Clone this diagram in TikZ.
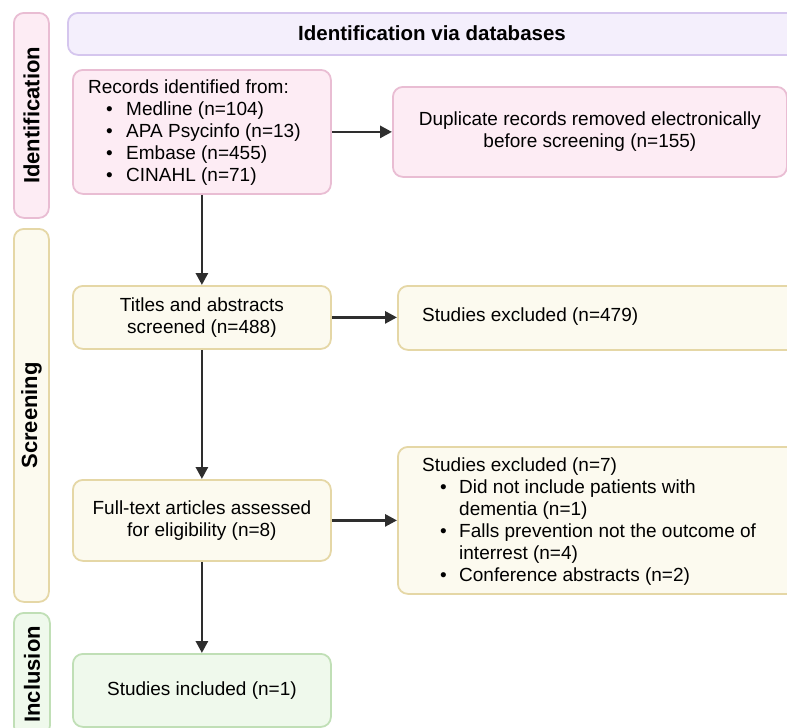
\documentclass[tikz,border=0pt]{standalone}
\usepackage{fontspec}
\setmainfont{Liberation Sans}
\usetikzlibrary{arrows.meta}
\definecolor{pinkF}{HTML}{FDECF4}
\definecolor{pinkD}{HTML}{E9BDD3}
\definecolor{lavF}{HTML}{F4EFFC}
\definecolor{lavD}{HTML}{D5C6EE}
\definecolor{yelF}{HTML}{FCFAEF}
\definecolor{yelD}{HTML}{E5D7A6}
\definecolor{grnF}{HTML}{EFF9EC}
\definecolor{grnD}{HTML}{C0DFB6}
\definecolor{arrowc}{HTML}{2E2E2E}
\begin{document}
\begin{tikzpicture}[x=1pt,y=-1pt,
  box/.style={draw, line width=1.8pt, rounded corners=10pt, anchor=north west,
    inner sep=0pt, font=\fontsize{19}{22}\selectfont, align=center, text=black},
  pinkbox/.style={box, fill=pinkF, draw=pinkD},
  lavbox/.style={box, fill=lavF, draw=lavD},
  yelbox/.style={box, fill=yelF, draw=yelD},
  grnbox/.style={box, fill=grnF, draw=grnD},
  sidelab/.style={rotate=90, font=\bfseries\fontsize{22}{24}\selectfont, inner sep=0pt},
  txt/.style={font=\fontsize{19}{22}\selectfont, align=left, inner sep=0pt},
  arr/.style={draw=arrowc, line width=2.8pt, -{Triangle[length=12pt,width=12pt]}}
]
\useasboundingbox (0,0) rectangle (787,728);
\clip (0,0) rectangle (787,728);

% side bars
\node[pinkbox, minimum width=35pt, minimum height=205pt] (idbar) at (13,12) {};
\node[sidelab] (idlab) at (idbar.center) {Identification};
\node[yelbox, minimum width=35pt, minimum height=373pt] (scbar) at (13,228) {};
\node[sidelab] (sclab) at (scbar.center) {Screening};
\node[grnbox, minimum width=36pt, minimum height=123pt] (inbar) at (13,612) {};
\node[sidelab] (inlab) at (inbar.center) {Inclusion};

% title bar
\node[lavbox, minimum width=740pt, minimum height=42pt] (title) at (67,12) {};
\node[font=\bfseries\fontsize{20.5}{22}\selectfont, inner sep=0pt] (titletxt) at (432,33) {Identification via databases};

% identification
\node[pinkbox, minimum width=258pt, minimum height=124pt] (rec) at (72,69) {};
\node[txt, anchor=north west] (rectxt) at (88,80) {Records identified from:\\
\makebox[38pt][l]{\hspace*{18pt}\textbullet}Medline (n=104)\\
\makebox[38pt][l]{\hspace*{18pt}\textbullet}APA Psycinfo (n=13)\\
\makebox[38pt][l]{\hspace*{18pt}\textbullet}Embase (n=455)\\
\makebox[38pt][l]{\hspace*{18pt}\textbullet}CINAHL (n=71)};
\node[pinkbox, minimum width=394pt, minimum height=90pt] (dup) at (392,86) {Duplicate records removed electronically\\ before screening (n=155)};

% screening
\node[yelbox, minimum width=258pt, minimum height=63pt] (tit) at (72,285) {Titles and abstracts\\ screened (n=488)};
\node[yelbox, minimum width=410pt, minimum height=64pt] (ex1) at (397,285) {};
\node[txt, anchor=west] (ex1txt) at (422,317) {Studies excluded (n=479)};

\node[yelbox, minimum width=258pt, minimum height=81pt] (full) at (72,479) {Full-text articles assessed\\ for eligibility (n=8)};
\node[yelbox, minimum width=410pt, minimum height=147pt] (ex2) at (397,446) {};
\node[txt, anchor=north west] (ex2txt) at (422,458) {Studies excluded (n=7)\\
\makebox[37pt][l]{\hspace*{18pt}\textbullet}Did not include patients with\\
\hspace*{37pt}dementia (n=1)\\
\makebox[37pt][l]{\hspace*{18pt}\textbullet}Falls prevention not the outcome of\\
\hspace*{37pt}interrest (n=4)\\
\makebox[37pt][l]{\hspace*{18pt}\textbullet}Conference abstracts (n=2)};

% inclusion
\node[grnbox, minimum width=258pt, minimum height=73pt] (inc) at (72,653) {Studies included (n=1)};

% arrows
\draw[arr] (rec.south) -- (tit.north);
\draw[arr] (rec.east) -- (dup.west);
\draw[arr] (tit.east) -- (tit.east -| ex1.west);
\draw[arr] (tit.south) -- (full.north);
\draw[arr] (full.east) -- (full.east -| ex2.west);
\draw[arr] (full.south) -- (inc.north);
\end{tikzpicture}
\end{document}
